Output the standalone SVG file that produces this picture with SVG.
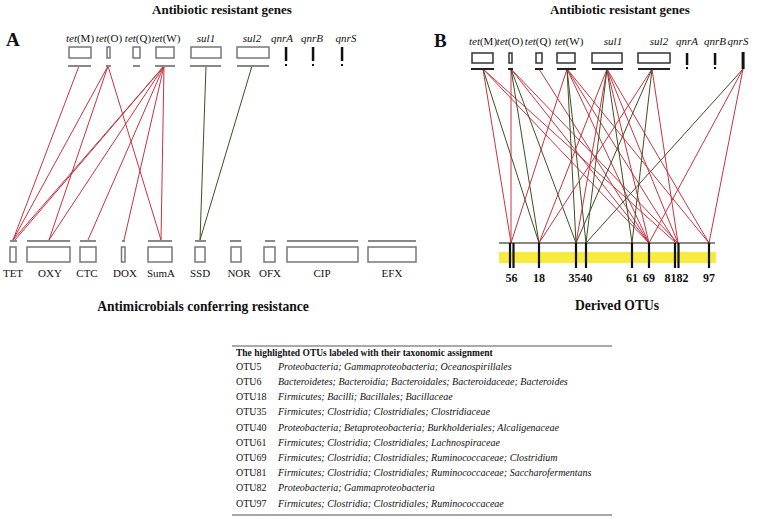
<svg xmlns="http://www.w3.org/2000/svg" width="760" height="521" viewBox="0 0 760 521" font-family="'Liberation Serif', 'DejaVu Serif', serif">
<style>
text{font-family:'Liberation Serif','DejaVu Serif',serif;fill:#111}
.title{font-size:13px;font-weight:bold}
.title2{font-size:13.6px;font-weight:bold}
.panel{font-size:19px;font-weight:bold}
.gene{font-size:11px;font-style:italic}
.up{font-style:normal}
.lab{font-size:11px}
.otu{font-size:12px;font-weight:bold}
.th{font-size:9.5px;font-weight:bold}
.tr{font-size:10px}
.tx{font-size:10px;font-style:italic}
.gbox{fill:#fff;stroke:#777;stroke-width:1.5}
.gbar{stroke:#888;stroke-width:2}
.bbox{fill:#fff;stroke:#333;stroke-width:1.5}
.bbar{stroke:#222;stroke-width:2}
.qnr{fill:#111}
.r{stroke:#c83440;stroke-width:1;fill:none}
.g{stroke:#3e4f22;stroke-width:1;fill:none}
.tick{stroke:#111;stroke-width:2.2}
</style>

<g id="titles">
<text class="title" x="222" y="14" text-anchor="middle">Antibiotic resistant genes</text>
<text class="title" x="620" y="14" text-anchor="middle">Antibiotic resistant genes</text>
<text class="panel" x="6" y="46">A</text>
<text class="panel" x="434" y="47">B</text>
<text class="title2" x="203" y="311" text-anchor="middle">Antimicrobials conferring resistance</text>
<text class="title2" x="617" y="310" text-anchor="middle">Derived OTUs</text>
</g>

<g id="connectors">
<g id="connA">
<line class="r" x1="79" y1="66" x2="13" y2="240"/>
<line class="r" x1="108" y1="66" x2="13" y2="240"/>
<line class="r" x1="108" y1="66" x2="49" y2="240"/>
<line class="r" x1="108" y1="66" x2="161" y2="240"/>
<line class="r" x1="164" y1="66" x2="13" y2="240"/>
<line class="r" x1="164" y1="66" x2="15" y2="240"/>
<line class="r" x1="164" y1="66" x2="49" y2="240"/>
<line class="r" x1="164" y1="66" x2="88" y2="240"/>
<line class="r" x1="164" y1="66" x2="124" y2="240"/>
<line class="r" x1="164" y1="66" x2="161" y2="240"/>
<line class="g" x1="206" y1="66" x2="200" y2="240"/>
<line class="g" x1="252" y1="66" x2="200" y2="240"/>
</g>
<g id="connB">
<line class="r" x1="483" y1="69" x2="511" y2="243"/>
<line class="g" x1="483" y1="69" x2="539" y2="243"/>
<line class="r" x1="483" y1="69" x2="649" y2="243"/>
<line class="r" x1="483" y1="69" x2="676" y2="243"/>
<line class="r" x1="511" y1="69" x2="511" y2="243"/>
<line class="g" x1="511" y1="69" x2="539" y2="243"/>
<line class="g" x1="511" y1="69" x2="576" y2="243"/>
<line class="r" x1="511" y1="69" x2="649" y2="243"/>
<line class="r" x1="511" y1="69" x2="678" y2="243"/>
<line class="r" x1="539" y1="69" x2="649" y2="243"/>
<line class="r" x1="567" y1="69" x2="511" y2="243"/>
<line class="g" x1="567" y1="69" x2="576" y2="243"/>
<line class="g" x1="567" y1="69" x2="586" y2="243"/>
<line class="r" x1="567" y1="69" x2="649" y2="243"/>
<line class="r" x1="567" y1="69" x2="676" y2="243"/>
<line class="r" x1="567" y1="69" x2="709" y2="243"/>
<line class="r" x1="607" y1="69" x2="539" y2="243"/>
<line class="r" x1="607" y1="69" x2="576" y2="243"/>
<line class="g" x1="607" y1="69" x2="586" y2="243"/>
<line class="g" x1="607" y1="69" x2="632" y2="243"/>
<line class="r" x1="607" y1="69" x2="649" y2="243"/>
<line class="r" x1="607" y1="69" x2="678" y2="243"/>
<line class="r" x1="607" y1="69" x2="709" y2="243"/>
<line class="r" x1="652" y1="69" x2="539" y2="243"/>
<line class="g" x1="652" y1="69" x2="576" y2="243"/>
<line class="g" x1="652" y1="69" x2="632" y2="243"/>
<line class="r" x1="652" y1="69" x2="678" y2="243"/>
<line class="g" x1="743" y1="69" x2="586" y2="243"/>
<line class="r" x1="743" y1="69" x2="649" y2="243"/>
<line class="r" x1="743" y1="69" x2="709" y2="243"/>
</g>
</g>

<g id="genesA">
<g id="A-tetM"><text class="gene" x="80" y="42" text-anchor="middle">tet<tspan class="up">(M)</tspan></text><rect class="gbox" x="69" y="47" width="22" height="11"/><line class="gbar" x1="68" y1="66" x2="91" y2="66"/></g>
<g id="A-tetO"><text class="gene" x="109" y="42" text-anchor="middle">tet<tspan class="up">(O)</tspan></text><rect class="gbox" x="107" y="47" width="3" height="11"/><line class="gbar" x1="106" y1="66" x2="111" y2="66"/></g>
<g id="A-tetQ"><text class="gene" x="138" y="42" text-anchor="middle">tet<tspan class="up">(Q)</tspan></text><rect class="gbox" x="133" y="47" width="7" height="11"/><line class="gbar" x1="133" y1="66" x2="140" y2="66"/></g>
<g id="A-tetW"><text class="gene" x="166" y="42" text-anchor="middle">tet<tspan class="up">(W)</tspan></text><rect class="gbox" x="156" y="47" width="18" height="11"/><line class="gbar" x1="155" y1="66" x2="175" y2="66"/></g>
<g id="A-sul1"><text class="gene" x="206" y="42" text-anchor="middle">sul1</text><rect class="gbox" x="191" y="47" width="30" height="11"/><line class="gbar" x1="190" y1="66" x2="221" y2="66"/></g>
<g id="A-sul2"><text class="gene" x="252" y="42" text-anchor="middle">sul2</text><rect class="gbox" x="237" y="47" width="32" height="11"/><line class="gbar" x1="237" y1="66" x2="269" y2="66"/></g>
<g id="A-qnrA"><text class="gene" x="282" y="42" text-anchor="middle">qnrA</text><rect class="qnr" x="284.8" y="47" width="2.5" height="14"/><rect class="qnr" x="285" y="64" width="2" height="2"/></g>
<g id="A-qnrB"><text class="gene" x="312" y="42" text-anchor="middle">qnrB</text><rect class="qnr" x="311.8" y="47" width="2.5" height="14"/><rect class="qnr" x="312" y="64" width="2" height="2"/></g>
<g id="A-qnrS"><text class="gene" x="346" y="42" text-anchor="middle">qnrS</text><rect class="qnr" x="340.8" y="47" width="2.5" height="14"/><rect class="qnr" x="341" y="64" width="2" height="2"/></g>
</g>

<g id="drugsA">
<g id="TET"><line class="gbar" x1="10" y1="241" x2="17" y2="241"/><rect class="gbox" x="10" y="247" width="6" height="15"/><text class="lab" x="13" y="277" text-anchor="middle">TET</text></g>
<g id="OXY"><line class="gbar" x1="27" y1="241" x2="70" y2="241"/><rect class="gbox" x="27" y="247" width="43" height="15"/><text class="lab" x="50" y="277" text-anchor="middle">OXY</text></g>
<g id="CTC"><line class="gbar" x1="80" y1="241" x2="96" y2="241"/><rect class="gbox" x="80" y="247" width="16" height="15"/><text class="lab" x="87" y="277" text-anchor="middle">CTC</text></g>
<g id="DOX"><line class="gbar" x1="122" y1="241" x2="125" y2="241"/><rect class="gbox" x="121.5" y="247" width="3.5" height="15"/><text class="lab" x="125" y="277" text-anchor="middle">DOX</text></g>
<g id="SumA"><line class="gbar" x1="148" y1="241" x2="172" y2="241"/><rect class="gbox" x="148" y="247" width="24" height="15"/><text class="lab" x="161" y="277" text-anchor="middle">SumA</text></g>
<g id="SSD"><line class="gbar" x1="195" y1="241" x2="206" y2="241"/><rect class="gbox" x="195" y="247" width="10" height="15"/><text class="lab" x="200" y="277" text-anchor="middle">SSD</text></g>
<g id="NOR"><line class="gbar" x1="230" y1="241" x2="241" y2="241"/><rect class="gbox" x="231" y="247" width="10" height="15"/><text class="lab" x="239" y="277" text-anchor="middle">NOR</text></g>
<g id="OFX"><line class="gbar" x1="265" y1="241" x2="275" y2="241"/><rect class="gbox" x="264" y="247" width="11" height="15"/><text class="lab" x="270" y="277" text-anchor="middle">OFX</text></g>
<g id="CIP"><line class="gbar" x1="287" y1="241" x2="358" y2="241"/><rect class="gbox" x="287" y="247" width="71" height="15"/><text class="lab" x="322" y="277" text-anchor="middle">CIP</text></g>
<g id="EFX"><line class="gbar" x1="368" y1="241" x2="416" y2="241"/><rect class="gbox" x="368" y="247" width="48" height="15"/><text class="lab" x="392" y="277" text-anchor="middle">EFX</text></g>
</g>

<g id="genesB">
<g id="B-tetM"><text class="gene" x="483" y="45" text-anchor="middle">tet<tspan class="up">(M)</tspan></text><rect class="bbox" x="472" y="53" width="21" height="10"/><line class="bbar" x1="471" y1="69" x2="494" y2="69"/></g>
<g id="B-tetO"><text class="gene" x="510" y="45" text-anchor="middle">tet<tspan class="up">(O)</tspan></text><rect class="bbox" x="509" y="53" width="3" height="10"/><line class="bbar" x1="508" y1="69" x2="513" y2="69"/></g>
<g id="B-tetQ"><text class="gene" x="538" y="45" text-anchor="middle">tet<tspan class="up">(Q)</tspan></text><rect class="bbox" x="536" y="53" width="6" height="10"/><line class="bbar" x1="535" y1="69" x2="543" y2="69"/></g>
<g id="B-tetW"><text class="gene" x="569" y="45" text-anchor="middle">tet<tspan class="up">(W)</tspan></text><rect class="bbox" x="557" y="53" width="18" height="10"/><line class="bbar" x1="557" y1="69" x2="576" y2="69"/></g>
<g id="B-sul1"><text class="gene" x="613" y="45" text-anchor="middle">sul1</text><rect class="bbox" x="592" y="53" width="30" height="10"/><line class="bbar" x1="592" y1="69" x2="623" y2="69"/></g>
<g id="B-sul2"><text class="gene" x="659" y="45" text-anchor="middle">sul2</text><rect class="bbox" x="638" y="53" width="32" height="10"/><line class="bbar" x1="638" y1="69" x2="670" y2="69"/></g>
<g id="B-qnrA"><text class="gene" x="687" y="45" text-anchor="middle">qnrA</text><rect class="qnr" x="685.8" y="53" width="2.5" height="12"/><rect class="qnr" x="686" y="67" width="2" height="2"/></g>
<g id="B-qnrB"><text class="gene" x="715" y="45" text-anchor="middle">qnrB</text><rect class="qnr" x="713.8" y="53" width="2.5" height="12"/><rect class="qnr" x="714" y="67" width="2" height="2"/></g>
<g id="B-qnrS"><text class="gene" x="738" y="45" text-anchor="middle">qnrS</text><rect class="qnr" x="741.6" y="52" width="3" height="17"/></g>
</g>

<g id="otus">
<rect x="499" y="252" width="217" height="11" fill="#f7ec3e"/>
<line x1="499" y1="243" x2="715" y2="243" stroke="#111" stroke-width="1.2"/>
<g id="OTU5"><line class="tick" x1="510" y1="243" x2="510" y2="268"/></g>
<g id="OTU6"><line class="tick" x1="513.5" y1="243" x2="513.5" y2="268"/></g>
<g id="OTU18"><line class="tick" x1="539" y1="243" x2="539" y2="268"/></g>
<g id="OTU35"><line class="tick" x1="576" y1="243" x2="576" y2="268"/></g>
<g id="OTU40"><line class="tick" x1="586" y1="243" x2="586" y2="268"/></g>
<g id="OTU61"><line class="tick" x1="632" y1="243" x2="632" y2="268"/></g>
<g id="OTU69"><line class="tick" x1="649" y1="243" x2="649" y2="268"/></g>
<g id="OTU81"><line class="tick" x1="675" y1="243" x2="675" y2="268"/></g>
<g id="OTU82"><line class="tick" x1="678.5" y1="243" x2="678.5" y2="268"/></g>
<g id="OTU97"><line class="tick" x1="709" y1="243" x2="709" y2="268"/></g>
<text class="otu" x="511.5" y="282" text-anchor="middle">56</text>
<text class="otu" x="539" y="282" text-anchor="middle">18</text>
<text class="otu" x="580.5" y="282" text-anchor="middle">3540</text>
<text class="otu" x="632" y="282" text-anchor="middle">61</text>
<text class="otu" x="649" y="282" text-anchor="middle">69</text>
<text class="otu" x="676.5" y="282" text-anchor="middle">8182</text>
<text class="otu" x="709" y="282" text-anchor="middle">97</text>
</g>

<g id="table">
<line x1="232" y1="346" x2="612" y2="346" stroke="#555" stroke-width="1"/>
<line x1="232" y1="515" x2="612" y2="515" stroke="#555" stroke-width="1"/>
<text class="th" x="236" y="356">The highlighted OTUs labeled with their taxonomic assignment</text>
<text class="tr" x="236" y="370">OTU5</text><text class="tx" x="278" y="370">Proteobacteria; Gammaproteobacteria; Oceanospirillales</text>
<text class="tr" x="236" y="385">OTU6</text><text class="tx" x="278" y="385">Bacteroidetes; Bacteroidia; Bacteroidales; Bacteroidaceae; Bacteroides</text>
<text class="tr" x="236" y="400">OTU18</text><text class="tx" x="278" y="400">Firmicutes; Bacilli; Bacillales; Bacillaceae</text>
<text class="tr" x="236" y="415">OTU35</text><text class="tx" x="278" y="415">Firmicutes; Clostridia; Clostridiales; Clostridiaceae</text>
<text class="tr" x="236" y="431">OTU40</text><text class="tx" x="278" y="431">Proteobacteria; Betaproteobacteria; Burkholderiales; Alcaligenaceae</text>
<text class="tr" x="236" y="446">OTU61</text><text class="tx" x="278" y="446">Firmicutes; Clostridia; Clostridiales; Lachnospiraceae</text>
<text class="tr" x="236" y="461">OTU69</text><text class="tx" x="278" y="461">Firmicutes; Clostridia; Clostridiales; Ruminococcaceae; Clostridium</text>
<text class="tr" x="236" y="476">OTU81</text><text class="tx" x="278" y="476">Firmicutes; Clostridia; Clostridiales; Ruminococcaceae; Saccharofermentans</text>
<text class="tr" x="236" y="491">OTU82</text><text class="tx" x="278" y="491">Proteobacteria; Gammaproteobacteria</text>
<text class="tr" x="236" y="507">OTU97</text><text class="tx" x="278" y="507">Firmicutes; Clostridia; Clostridiales; Ruminococcaceae</text>
</g>
</svg>
